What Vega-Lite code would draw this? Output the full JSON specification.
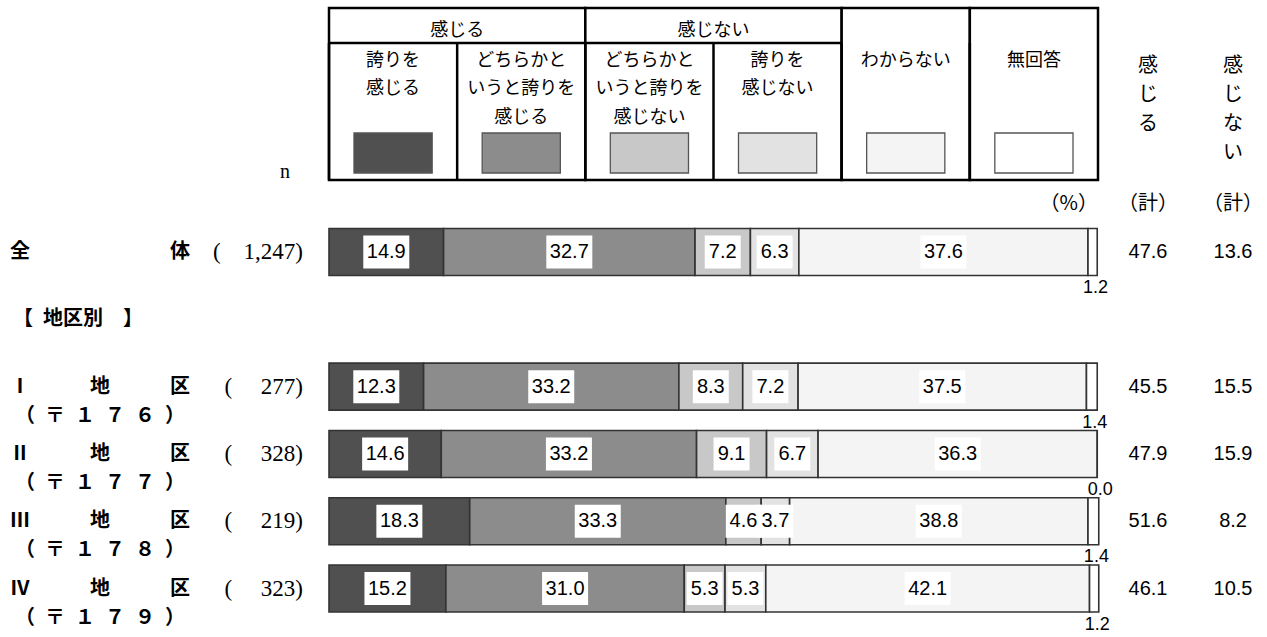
{
  "$schema": "https://vega.github.io/schema/vega-lite/v6.json",
  "width": 769,
  "height": 518,
  "autosize": {"type": "none"},
  "padding": {"left": 329, "top": 94, "right": 169, "bottom": 25},
  "background": "white",
  "config": {"view": {"stroke": null}, "text": {"font": "Noto Sans CJK JP", "color": "black"}},
  "datasets": {
    "legend": [
      {"cat": "誇りを感じる", "label": "誇りを\n感じる"},
      {"cat": "どちらかというと誇りを感じる", "label": "どちらかと\nいうと誇りを\n感じる"},
      {"cat": "どちらかというと誇りを感じない", "label": "どちらかと\nいうと誇りを\n感じない"},
      {"cat": "誇りを感じない", "label": "誇りを\n感じない"},
      {"cat": "わからない", "label": "わからない"},
      {"cat": "無回答", "label": "無回答"}
    ],
    "groups": [
      {"group": "感じる", "first": "誇りを感じる", "last": "どちらかというと誇りを感じる"},
      {"group": "感じない", "first": "どちらかというと誇りを感じない", "last": "誇りを感じない"},
      {"group": "わからない", "first": "わからない", "last": "わからない"},
      {"group": "無回答", "first": "無回答", "last": "無回答"}
    ],
    "bars": [
      {"row": "全体", "cat": "誇りを感じる", "ord": 1, "value": 14.9},
      {"row": "全体", "cat": "どちらかというと誇りを感じる", "ord": 2, "value": 32.7},
      {"row": "全体", "cat": "どちらかというと誇りを感じない", "ord": 3, "value": 7.2},
      {"row": "全体", "cat": "誇りを感じない", "ord": 4, "value": 6.3},
      {"row": "全体", "cat": "わからない", "ord": 5, "value": 37.6},
      {"row": "全体", "cat": "無回答", "ord": 6, "value": 1.2},
      {"row": "I", "cat": "誇りを感じる", "ord": 1, "value": 12.3},
      {"row": "I", "cat": "どちらかというと誇りを感じる", "ord": 2, "value": 33.2},
      {"row": "I", "cat": "どちらかというと誇りを感じない", "ord": 3, "value": 8.3},
      {"row": "I", "cat": "誇りを感じない", "ord": 4, "value": 7.2},
      {"row": "I", "cat": "わからない", "ord": 5, "value": 37.5},
      {"row": "I", "cat": "無回答", "ord": 6, "value": 1.4},
      {"row": "II", "cat": "誇りを感じる", "ord": 1, "value": 14.6},
      {"row": "II", "cat": "どちらかというと誇りを感じる", "ord": 2, "value": 33.2},
      {"row": "II", "cat": "どちらかというと誇りを感じない", "ord": 3, "value": 9.1},
      {"row": "II", "cat": "誇りを感じない", "ord": 4, "value": 6.7},
      {"row": "II", "cat": "わからない", "ord": 5, "value": 36.3},
      {"row": "II", "cat": "無回答", "ord": 6, "value": 0.0},
      {"row": "III", "cat": "誇りを感じる", "ord": 1, "value": 18.3},
      {"row": "III", "cat": "どちらかというと誇りを感じる", "ord": 2, "value": 33.3},
      {"row": "III", "cat": "どちらかというと誇りを感じない", "ord": 3, "value": 4.6},
      {"row": "III", "cat": "誇りを感じない", "ord": 4, "value": 3.7},
      {"row": "III", "cat": "わからない", "ord": 5, "value": 38.8},
      {"row": "III", "cat": "無回答", "ord": 6, "value": 1.4},
      {"row": "IV", "cat": "誇りを感じる", "ord": 1, "value": 15.2},
      {"row": "IV", "cat": "どちらかというと誇りを感じる", "ord": 2, "value": 31.0},
      {"row": "IV", "cat": "どちらかというと誇りを感じない", "ord": 3, "value": 5.3},
      {"row": "IV", "cat": "誇りを感じない", "ord": 4, "value": 5.3},
      {"row": "IV", "cat": "わからない", "ord": 5, "value": 42.1},
      {"row": "IV", "cat": "無回答", "ord": 6, "value": 1.2}
    ],
    "rows": [
      {"row": "全体", "label": "全\u3000\u3000\u3000\u3000\u3000\u3000\u3000体", "n": "(\u2007\u20071,247)", "feel": 47.6, "notfeel": 13.6},
      {"row": "地区別", "label": "【\u2002地区別\u3000】"},
      {"row": "I", "label": "Ⅰ\u3000\u3000\u3000地\u3000\u3000\u3000区\n（\u2002〒\u2002１\u2002７\u2002６\u2002）", "n": "(\u2007\u2007 277)", "feel": 45.5, "notfeel": 15.5},
      {"row": "II", "label": "Ⅱ\u3000\u3000\u3000地\u3000\u3000\u3000区\n（\u2002〒\u2002１\u2002７\u2002７\u2002）", "n": "(\u2007\u2007 328)", "feel": 47.9, "notfeel": 15.9},
      {"row": "III", "label": "Ⅲ\u3000\u3000\u3000地\u3000\u3000\u3000区\n（\u2002〒\u2002１\u2002７\u2002８\u2002）", "n": "(\u2007\u2007 219)", "feel": 51.6, "notfeel": 8.2},
      {"row": "IV", "label": "Ⅳ\u3000\u3000\u3000地\u3000\u3000\u3000区\n（\u2002〒\u2002１\u2002７\u2002９\u2002）", "n": "(\u2007\u2007 323)", "feel": 46.1, "notfeel": 10.5}
    ]
  },
  "layer": [
    {
      "layer": [
        {
          "data": {"name": "groups"},
          "mark": {"type": "rect", "fill": "white", "stroke": "black", "strokeWidth": 2.5},
          "encoding": {
            "x": {"field": "first", "type": "nominal", "bandPosition": 0, "scale": {"domain": ["誇りを感じる", "どちらかというと誇りを感じる", "どちらかというと誇りを感じない", "誇りを感じない", "わからない", "無回答"], "paddingInner": 0, "paddingOuter": 0}, "axis": null},
            "x2": {"field": "last", "bandPosition": 1},
            "y": {"datum": 8, "type": "quantitative", "scale": {"domain": [94, 612], "reverse": true, "nice": false, "zero": false}, "axis": null},
            "y2": {"datum": 180}
          }
        },
        {
          "data": {"name": "groups"},
          "transform": [{"filter": "datum.group === '感じる' || datum.group === '感じない'"}],
          "mark": {"type": "rule", "stroke": "black", "strokeWidth": 2.5},
          "encoding": {
            "x": {"field": "first", "type": "nominal", "bandPosition": 0, "scale": {"domain": ["誇りを感じる", "どちらかというと誇りを感じる", "どちらかというと誇りを感じない", "誇りを感じない", "わからない", "無回答"], "paddingInner": 0, "paddingOuter": 0}, "axis": null},
            "x2": {"field": "last", "bandPosition": 1},
            "y": {"datum": 43, "type": "quantitative", "scale": {"domain": [94, 612], "reverse": true, "nice": false, "zero": false}, "axis": null}
          }
        },
        {
          "data": {"name": "legend"},
          "mark": {"type": "rule", "stroke": "black", "strokeWidth": 2.5},
          "encoding": {
            "x": {"field": "cat", "type": "nominal", "bandPosition": 0, "scale": {"domain": ["誇りを感じる", "どちらかというと誇りを感じる", "どちらかというと誇りを感じない", "誇りを感じない", "わからない", "無回答"], "paddingInner": 0, "paddingOuter": 0}, "axis": null},
            "y": {"datum": 43, "type": "quantitative", "scale": {"domain": [94, 612], "reverse": true, "nice": false, "zero": false}, "axis": null},
            "y2": {"datum": 180}
          }
        },
        {
          "data": {"name": "groups"},
          "transform": [{"filter": "datum.group === '感じる' || datum.group === '感じない'"}],
          "mark": {"type": "text", "fontSize": 18, "align": "center", "baseline": "middle"},
          "encoding": {
            "x": {"field": "first", "type": "nominal", "bandPosition": 1, "scale": {"domain": ["誇りを感じる", "どちらかというと誇りを感じる", "どちらかというと誇りを感じない", "誇りを感じない", "わからない", "無回答"], "paddingInner": 0, "paddingOuter": 0}, "axis": null},
            "y": {"datum": 31, "type": "quantitative", "scale": {"domain": [94, 612], "reverse": true, "nice": false, "zero": false}, "axis": null},
            "text": {"field": "group"}
          }
        },
        {
          "data": {"name": "legend"},
          "mark": {"type": "text", "fontSize": 18, "align": "center", "baseline": "top", "lineBreak": "\n", "lineHeight": 28.5},
          "encoding": {
            "x": {"field": "cat", "type": "nominal", "scale": {"domain": ["誇りを感じる", "どちらかというと誇りを感じる", "どちらかというと誇りを感じない", "誇りを感じない", "わからない", "無回答"], "paddingInner": 0, "paddingOuter": 0}, "axis": null},
            "y": {"datum": 51.6, "type": "quantitative", "scale": {"domain": [94, 612], "reverse": true, "nice": false, "zero": false}, "axis": null},
            "text": {"field": "label"}
          }
        },
        {
          "data": {"name": "legend"},
          "mark": {"type": "rect", "width": {"band": 0.61}, "stroke": "#555555", "strokeWidth": 1.3},
          "encoding": {
            "x": {"field": "cat", "type": "nominal", "scale": {"domain": ["誇りを感じる", "どちらかというと誇りを感じる", "どちらかというと誇りを感じない", "誇りを感じない", "わからない", "無回答"], "paddingInner": 0, "paddingOuter": 0}, "axis": null},
            "y": {"datum": 133, "type": "quantitative", "scale": {"domain": [94, 612], "reverse": true, "nice": false, "zero": false}, "axis": null},
            "y2": {"datum": 173},
            "color": {"field": "cat", "type": "nominal", "scale": {"domain": ["誇りを感じる", "どちらかというと誇りを感じる", "どちらかというと誇りを感じない", "誇りを感じない", "わからない", "無回答"], "range": ["#505050", "#8c8c8c", "#c8c8c8", "#e2e2e2", "#f4f4f4", "#ffffff"]}, "legend": null}
          }
        }
      ]
    },
    {
      "layer": [
        {
          "data": {"name": "bars"},
          "transform": [
            {"stack": "value", "groupby": ["row"], "sort": [{"field": "ord", "order": "ascending"}], "as": ["v0", "v1"]}
          ],
          "mark": {"type": "rect", "stroke": "#333333", "strokeWidth": 1.6},
          "encoding": {
            "x": {"field": "v0", "type": "quantitative", "scale": {"domain": [0, 100], "nice": false, "zero": false}, "axis": null},
            "x2": {"field": "v1"},
            "y": {"field": "row", "type": "nominal", "scale": {"domain": ["全体", "地区別", "I", "II", "III", "IV"], "paddingInner": 0.3016, "paddingOuter": 1, "align": 1}, "axis": null},
            "color": {"field": "cat", "type": "nominal", "scale": {"domain": ["誇りを感じる", "どちらかというと誇りを感じる", "どちらかというと誇りを感じない", "誇りを感じない", "わからない", "無回答"], "range": ["#505050", "#8c8c8c", "#c8c8c8", "#e2e2e2", "#f4f4f4", "#ffffff"]}, "legend": null}
          }
        },
        {
          "data": {"name": "bars"},
          "transform": [
            {"stack": "value", "groupby": ["row"], "sort": [{"field": "ord", "order": "ascending"}], "as": ["v0", "v1"]},
            {"calculate": "(datum.v0 + datum.v1) / 2", "as": "mid"},
            {"filter": "datum.cat !== '無回答'"}
          ],
          "mark": {"type": "point", "filled": true, "fill": "white", "opacity": 1, "strokeWidth": 0},
          "encoding": {
            "x": {"field": "mid", "type": "quantitative", "scale": {"domain": [0, 100], "nice": false, "zero": false}, "axis": null},
            "y": {"field": "row", "type": "nominal", "scale": {"domain": ["全体", "地区別", "I", "II", "III", "IV"], "paddingInner": 0.3016, "paddingOuter": 1, "align": 1}, "axis": null},
            "shape": {"condition": {"test": "datum.value >= 10", "value": "M-1,-0.717H1V0.717H-1Z"}, "value": "M-1,-0.917H1V0.917H-1Z"},
            "size": {"condition": {"test": "datum.value >= 10", "value": 2116}, "value": 1296}
          }
        },
        {
          "data": {"name": "bars"},
          "transform": [
            {"stack": "value", "groupby": ["row"], "sort": [{"field": "ord", "order": "ascending"}], "as": ["v0", "v1"]},
            {"calculate": "(datum.v0 + datum.v1) / 2", "as": "mid"},
            {"filter": "datum.cat !== '無回答'"}
          ],
          "mark": {"type": "text", "font": "Liberation Sans", "fontSize": 20, "align": "center", "baseline": "middle"},
          "encoding": {
            "x": {"field": "mid", "type": "quantitative", "scale": {"domain": [0, 100], "nice": false, "zero": false}, "axis": null},
            "y": {"field": "row", "type": "nominal", "scale": {"domain": ["全体", "地区別", "I", "II", "III", "IV"], "paddingInner": 0.3016, "paddingOuter": 1, "align": 1}, "axis": null},
            "text": {"field": "value", "type": "quantitative", "format": ".1f"}
          }
        },
        {
          "data": {"name": "bars"},
          "transform": [
            {"stack": "value", "groupby": ["row"], "sort": [{"field": "ord", "order": "ascending"}], "as": ["v0", "v1"]},
            {"calculate": "(datum.v0 + datum.v1) / 2", "as": "mid"},
            {"filter": "datum.cat === '無回答'"}
          ],
          "mark": {"type": "text", "font": "Liberation Sans", "fontSize": 18, "align": "center", "baseline": "middle", "yOffset": 36, "dx": 3},
          "encoding": {
            "x": {"field": "mid", "type": "quantitative", "scale": {"domain": [0, 100], "nice": false, "zero": false}, "axis": null},
            "y": {"field": "row", "type": "nominal", "scale": {"domain": ["全体", "地区別", "I", "II", "III", "IV"], "paddingInner": 0.3016, "paddingOuter": 1, "align": 1}, "axis": null},
            "text": {"field": "value", "type": "quantitative", "format": ".1f"}
          }
        },
        {
          "data": {"name": "rows"},
          "transform": [{"filter": "datum.row !== '地区別'"}],
          "mark": {"type": "text", "fontSize": 20, "fontWeight": "bold", "align": "center", "baseline": "middle", "lineBreak": "\n", "lineHeight": 29},
          "encoding": {
            "x": {"datum": -29.78, "type": "quantitative", "scale": {"domain": [0, 100], "nice": false, "zero": false}, "axis": null},
            "y": {"field": "row", "type": "nominal", "scale": {"domain": ["全体", "地区別", "I", "II", "III", "IV"], "paddingInner": 0.3016, "paddingOuter": 1, "align": 1}, "axis": null},
            "text": {"field": "label"}
          }
        },
        {
          "data": {"name": "rows"},
          "transform": [{"filter": "datum.row === '地区別'"}],
          "mark": {"type": "text", "fontSize": 20, "fontWeight": "bold", "align": "left", "baseline": "middle"},
          "encoding": {
            "x": {"datum": -41.09, "type": "quantitative", "scale": {"domain": [0, 100], "nice": false, "zero": false}, "axis": null},
            "y": {"field": "row", "type": "nominal", "scale": {"domain": ["全体", "地区別", "I", "II", "III", "IV"], "paddingInner": 0.3016, "paddingOuter": 1, "align": 1}, "axis": null},
            "text": {"field": "label"}
          }
        },
        {
          "data": {"name": "rows"},
          "transform": [{"filter": "isValid(datum.n)"}],
          "mark": {"type": "text", "font": "Liberation Serif", "fontSize": 23, "align": "right", "baseline": "middle"},
          "encoding": {
            "x": {"datum": -3.38, "type": "quantitative", "scale": {"domain": [0, 100], "nice": false, "zero": false}, "axis": null},
            "y": {"field": "row", "type": "nominal", "scale": {"domain": ["全体", "地区別", "I", "II", "III", "IV"], "paddingInner": 0.3016, "paddingOuter": 1, "align": 1}, "axis": null},
            "text": {"field": "n"}
          }
        },
        {
          "data": {"name": "rows"},
          "transform": [{"filter": "isValid(datum.feel)"}],
          "mark": {"type": "text", "font": "Liberation Sans", "fontSize": 20, "align": "center", "baseline": "middle"},
          "encoding": {
            "x": {"datum": 106.5, "type": "quantitative", "scale": {"domain": [0, 100], "nice": false, "zero": false}, "axis": null},
            "y": {"field": "row", "type": "nominal", "scale": {"domain": ["全体", "地区別", "I", "II", "III", "IV"], "paddingInner": 0.3016, "paddingOuter": 1, "align": 1}, "axis": null},
            "text": {"field": "feel", "type": "quantitative", "format": ".1f"}
          }
        },
        {
          "data": {"name": "rows"},
          "transform": [{"filter": "isValid(datum.notfeel)"}],
          "mark": {"type": "text", "font": "Liberation Sans", "fontSize": 20, "align": "center", "baseline": "middle"},
          "encoding": {
            "x": {"datum": 117.56, "type": "quantitative", "scale": {"domain": [0, 100], "nice": false, "zero": false}, "axis": null},
            "y": {"field": "row", "type": "nominal", "scale": {"domain": ["全体", "地区別", "I", "II", "III", "IV"], "paddingInner": 0.3016, "paddingOuter": 1, "align": 1}, "axis": null},
            "text": {"field": "notfeel", "type": "quantitative", "format": ".1f"}
          }
        },
        {
          "data": {"name": "rows"},
          "transform": [{"filter": "datum.row === '全体'"}],
          "mark": {"type": "text", "text": "（%）", "fontSize": 20, "align": "right", "baseline": "middle", "yOffset": -48},
          "encoding": {
            "x": {"datum": 100, "type": "quantitative", "scale": {"domain": [0, 100], "nice": false, "zero": false}, "axis": null},
            "y": {"field": "row", "type": "nominal", "scale": {"domain": ["全体", "地区別", "I", "II", "III", "IV"], "paddingInner": 0.3016, "paddingOuter": 1, "align": 1}, "axis": null}
          }
        },
        {
          "data": {"name": "rows"},
          "transform": [{"filter": "datum.row === '全体'"}],
          "mark": {"type": "text", "text": "（計）", "fontSize": 20, "align": "center", "baseline": "middle", "yOffset": -48},
          "encoding": {
            "x": {"datum": 106.5, "type": "quantitative", "scale": {"domain": [0, 100], "nice": false, "zero": false}, "axis": null},
            "y": {"field": "row", "type": "nominal", "scale": {"domain": ["全体", "地区別", "I", "II", "III", "IV"], "paddingInner": 0.3016, "paddingOuter": 1, "align": 1}, "axis": null}
          }
        },
        {
          "data": {"name": "rows"},
          "transform": [{"filter": "datum.row === '全体'"}],
          "mark": {"type": "text", "text": "（計）", "fontSize": 20, "align": "center", "baseline": "middle", "yOffset": -48},
          "encoding": {
            "x": {"datum": 117.56, "type": "quantitative", "scale": {"domain": [0, 100], "nice": false, "zero": false}, "axis": null},
            "y": {"field": "row", "type": "nominal", "scale": {"domain": ["全体", "地区別", "I", "II", "III", "IV"], "paddingInner": 0.3016, "paddingOuter": 1, "align": 1}, "axis": null}
          }
        },
        {
          "data": {"name": "rows"},
          "transform": [{"filter": "datum.row === '全体'"}],
          "mark": {"type": "text", "text": ["感", "じ", "る"], "fontSize": 20, "align": "center", "baseline": "top", "lineHeight": 29, "yOffset": -196},
          "encoding": {
            "x": {"datum": 106.5, "type": "quantitative", "scale": {"domain": [0, 100], "nice": false, "zero": false}, "axis": null},
            "y": {"field": "row", "type": "nominal", "scale": {"domain": ["全体", "地区別", "I", "II", "III", "IV"], "paddingInner": 0.3016, "paddingOuter": 1, "align": 1}, "axis": null}
          }
        },
        {
          "data": {"name": "rows"},
          "transform": [{"filter": "datum.row === '全体'"}],
          "mark": {"type": "text", "text": ["感", "じ", "な", "い"], "fontSize": 20, "align": "center", "baseline": "top", "lineHeight": 29, "yOffset": -196},
          "encoding": {
            "x": {"datum": 117.56, "type": "quantitative", "scale": {"domain": [0, 100], "nice": false, "zero": false}, "axis": null},
            "y": {"field": "row", "type": "nominal", "scale": {"domain": ["全体", "地区別", "I", "II", "III", "IV"], "paddingInner": 0.3016, "paddingOuter": 1, "align": 1}, "axis": null}
          }
        },
        {
          "data": {"name": "rows"},
          "transform": [{"filter": "datum.row === '全体'"}],
          "mark": {"type": "text", "text": "n", "font": "Liberation Serif", "fontSize": 20, "align": "center", "baseline": "middle", "yOffset": -80},
          "encoding": {
            "x": {"datum": -5.72, "type": "quantitative", "scale": {"domain": [0, 100], "nice": false, "zero": false}, "axis": null},
            "y": {"field": "row", "type": "nominal", "scale": {"domain": ["全体", "地区別", "I", "II", "III", "IV"], "paddingInner": 0.3016, "paddingOuter": 1, "align": 1}, "axis": null}
          }
        }
      ]
    }
  ],
  "resolve": {"scale": {"x": "independent", "y": "independent"}}
}
